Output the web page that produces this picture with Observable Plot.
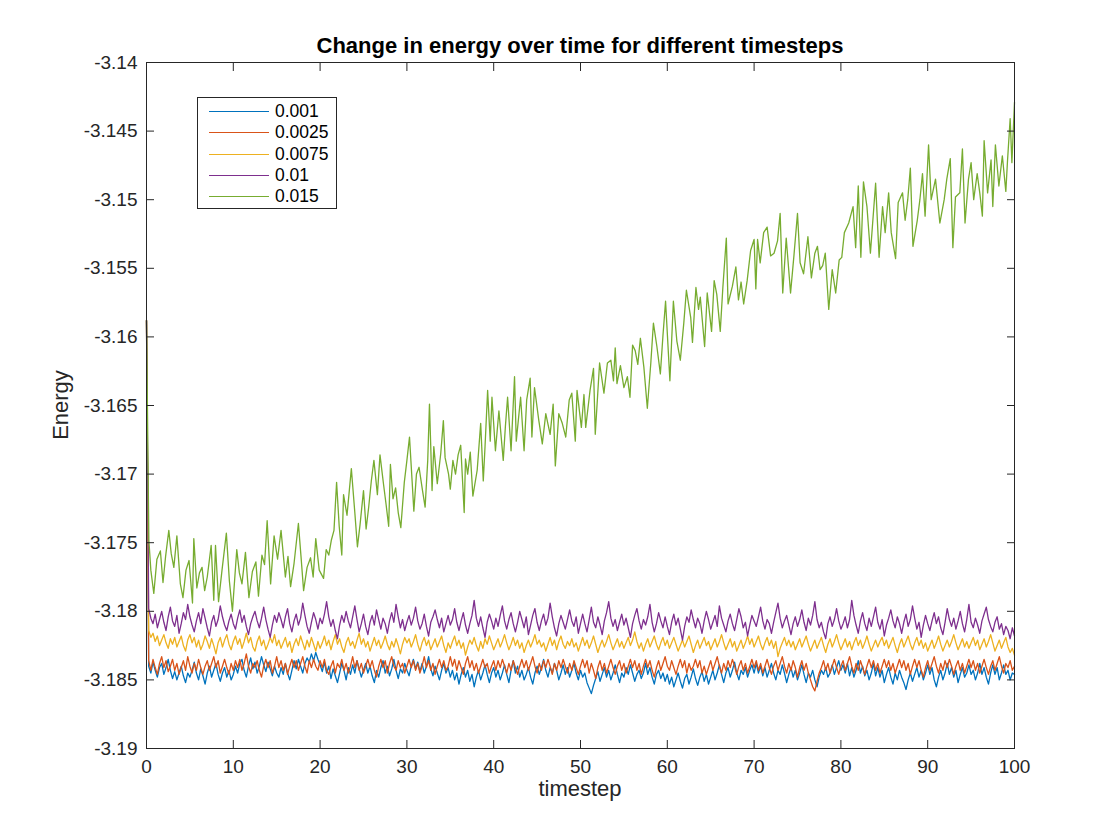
<!DOCTYPE html>
<html>
<head>
<meta charset="utf-8">
<script src="https://cdn.jsdelivr.net/npm/d3@7"></script>
<script src="https://cdn.jsdelivr.net/npm/@observablehq/plot@0.6"></script>
<style>
  html, body { margin: 0; padding: 0; background: #fff; }
  body { font-family: "Liberation Sans", Arial, Helvetica, sans-serif; color: #262626; }
  #wrap { position: relative; width: 1120px; height: 840px; overflow: hidden; background: #fff; }
  #wrap svg { position: absolute; left: 0; top: 0; }
  #title { position: absolute; left: 146px; width: 868px; top: 35px; text-align: center; font-weight: bold; font-size: 22px; line-height: 1; color: #000; white-space: nowrap; }
  #ylabel { position: absolute; left: 61px; top: 405px; transform: translate(-50%, -50%) rotate(-90deg); font-size: 22px; line-height: 1; color: #262626; white-space: nowrap; }
  #xlabel { position: absolute; left: 580px; top: 778px; transform: translateX(-50%); font-size: 22px; line-height: 1; color: #262626; white-space: nowrap; }
  #legend { position: absolute; left: 197px; top: 97px; width: 138px; height: 110px; border: 1px solid #262626; background: #fff; }
  .lrow { position: absolute; left: 0; height: 20px; width: 138px; }
  .lrow .sw { position: absolute; left: 11px; top: 10px; width: 60px; height: 1px; }
  .lrow .lt { position: absolute; left: 77px; top: 0; font-size: 17.5px; line-height: 20px; color: #000; }
</style>
</head>
<body>
<div id="wrap">
  <div id="title"></div>
  <div id="ylabel"></div>
  <div id="xlabel"></div>
  <div id="legend"></div>
</div>
<script>
const titleText = "Change in energy over time for different timesteps";
const xLabelText = "timestep";
const yLabelText = "Energy";

const seriesNames = ["0.001", "0.0025", "0.0075", "0.01", "0.015"];
const seriesColors = ["#0072BD", "#D95319", "#EDB120", "#7E2F8E", "#77AC30"];

const xTicks = [0, 10, 20, 30, 40, 50, 60, 70, 80, 90, 100];
const xTickLabels = ["0", "10", "20", "30", "40", "50", "60", "70", "80", "90", "100"];
const yTicks = [-3.19, -3.185, -3.18, -3.175, -3.17, -3.165, -3.16, -3.155, -3.15, -3.145, -3.14];
const yTickLabels = ["-3.19", "-3.185", "-3.18", "-3.175", "-3.17", "-3.165", "-3.16", "-3.155", "-3.15", "-3.145", "-3.14"];

// All runs start from the same energy at t = 0; the four stable runs are read every 0.25 time units
const startEnergy = -3.1588;
const sampleStep = 0.25;

const energy0001 = [
-3.1840,-3.1845,-3.1837,-3.1843,-3.1848,-3.1841,-3.1838,-3.1846,-3.1841,-3.1835,-3.1843,-3.1849,-3.1844,-3.1850,-3.1845,-3.1840,-3.1847,-3.1852,-3.1845,-3.1848,
-3.1843,-3.1837,-3.1845,-3.1850,-3.1842,-3.1847,-3.1853,-3.1845,-3.1840,-3.1848,-3.1843,-3.1838,-3.1846,-3.1851,-3.1845,-3.1841,-3.1848,-3.1843,-3.1850,-3.1846,
-3.1840,-3.1845,-3.1838,-3.1835,-3.1843,-3.1848,-3.1840,-3.1834,-3.1842,-3.1837,-3.1845,-3.1840,-3.1833,-3.1839,-3.1844,-3.1837,-3.1842,-3.1847,-3.1840,-3.1845,
-3.1848,-3.1841,-3.1846,-3.1838,-3.1845,-3.1850,-3.1843,-3.1836,-3.1842,-3.1835,-3.1840,-3.1845,-3.1838,-3.1834,-3.1837,-3.1831,-3.1836,-3.1830,-3.1835,-3.1839,
-3.1844,-3.1837,-3.1845,-3.1840,-3.1849,-3.1842,-3.1847,-3.1852,-3.1845,-3.1838,-3.1843,-3.1850,-3.1841,-3.1846,-3.1839,-3.1845,-3.1836,-3.1842,-3.1848,-3.1843,
-3.1838,-3.1845,-3.1840,-3.1847,-3.1852,-3.1843,-3.1848,-3.1841,-3.1836,-3.1845,-3.1840,-3.1847,-3.1842,-3.1835,-3.1843,-3.1849,-3.1842,-3.1845,-3.1838,-3.1843,
-3.1847,-3.1840,-3.1835,-3.1842,-3.1837,-3.1844,-3.1838,-3.1845,-3.1840,-3.1833,-3.1842,-3.1847,-3.1840,-3.1845,-3.1850,-3.1843,-3.1838,-3.1845,-3.1841,-3.1848,
-3.1843,-3.1850,-3.1845,-3.1853,-3.1846,-3.1841,-3.1848,-3.1843,-3.1851,-3.1846,-3.1855,-3.1848,-3.1843,-3.1850,-3.1845,-3.1839,-3.1846,-3.1852,-3.1845,-3.1841,
-3.1848,-3.1843,-3.1850,-3.1845,-3.1839,-3.1846,-3.1852,-3.1843,-3.1836,-3.1845,-3.1840,-3.1848,-3.1843,-3.1850,-3.1846,-3.1841,-3.1848,-3.1853,-3.1845,-3.1840,
-3.1846,-3.1841,-3.1835,-3.1843,-3.1848,-3.1841,-3.1845,-3.1838,-3.1843,-3.1850,-3.1845,-3.1839,-3.1846,-3.1841,-3.1848,-3.1843,-3.1838,-3.1845,-3.1850,-3.1843,
-3.1848,-3.1845,-3.1852,-3.1856,-3.1860,-3.1854,-3.1849,-3.1844,-3.1851,-3.1846,-3.1841,-3.1848,-3.1843,-3.1850,-3.1845,-3.1839,-3.1846,-3.1852,-3.1845,-3.1848,
-3.1841,-3.1846,-3.1839,-3.1845,-3.1851,-3.1846,-3.1843,-3.1849,-3.1845,-3.1838,-3.1846,-3.1841,-3.1848,-3.1853,-3.1846,-3.1843,-3.1849,-3.1845,-3.1851,-3.1846,
-3.1853,-3.1848,-3.1855,-3.1850,-3.1845,-3.1851,-3.1856,-3.1849,-3.1846,-3.1853,-3.1848,-3.1842,-3.1849,-3.1854,-3.1848,-3.1844,-3.1851,-3.1846,-3.1853,-3.1848,
-3.1843,-3.1850,-3.1845,-3.1839,-3.1846,-3.1852,-3.1845,-3.1841,-3.1848,-3.1843,-3.1837,-3.1845,-3.1850,-3.1843,-3.1846,-3.1841,-3.1848,-3.1843,-3.1839,-3.1845,
-3.1838,-3.1845,-3.1840,-3.1847,-3.1841,-3.1848,-3.1843,-3.1838,-3.1845,-3.1850,-3.1843,-3.1846,-3.1839,-3.1845,-3.1852,-3.1846,-3.1841,-3.1848,-3.1843,-3.1850,
-3.1845,-3.1839,-3.1846,-3.1852,-3.1845,-3.1848,-3.1843,-3.1850,-3.1855,-3.1848,-3.1843,-3.1846,-3.1841,-3.1848,-3.1845,-3.1839,-3.1846,-3.1841,-3.1836,-3.1843,
-3.1839,-3.1845,-3.1838,-3.1847,-3.1841,-3.1848,-3.1843,-3.1836,-3.1845,-3.1840,-3.1847,-3.1843,-3.1850,-3.1845,-3.1838,-3.1847,-3.1841,-3.1848,-3.1843,-3.1852,
-3.1846,-3.1841,-3.1848,-3.1853,-3.1845,-3.1850,-3.1843,-3.1848,-3.1852,-3.1857,-3.1850,-3.1845,-3.1851,-3.1846,-3.1841,-3.1848,-3.1843,-3.1850,-3.1845,-3.1839,
-3.1846,-3.1841,-3.1850,-3.1855,-3.1848,-3.1843,-3.1850,-3.1845,-3.1838,-3.1846,-3.1841,-3.1848,-3.1843,-3.1852,-3.1846,-3.1841,-3.1848,-3.1845,-3.1839,-3.1846,
-3.1843,-3.1850,-3.1845,-3.1838,-3.1846,-3.1841,-3.1848,-3.1853,-3.1845,-3.1839,-3.1846,-3.1841,-3.1850,-3.1845,-3.1839,-3.1846,-3.1843,-3.1850,-3.1845,-3.1846
];

const energy00025 = [
-3.1836,-3.1843,-3.1835,-3.1841,-3.1846,-3.1838,-3.1833,-3.1841,-3.1836,-3.1844,-3.1840,-3.1835,-3.1843,-3.1838,-3.1846,-3.1841,-3.1836,-3.1843,-3.1833,-3.1840,
-3.1845,-3.1838,-3.1843,-3.1835,-3.1841,-3.1846,-3.1840,-3.1836,-3.1843,-3.1838,-3.1833,-3.1841,-3.1836,-3.1845,-3.1840,-3.1835,-3.1841,-3.1846,-3.1838,-3.1843,
-3.1836,-3.1841,-3.1835,-3.1843,-3.1838,-3.1831,-3.1840,-3.1845,-3.1838,-3.1841,-3.1836,-3.1843,-3.1848,-3.1840,-3.1835,-3.1841,-3.1836,-3.1845,-3.1840,-3.1833,
-3.1841,-3.1836,-3.1843,-3.1838,-3.1846,-3.1840,-3.1835,-3.1841,-3.1836,-3.1843,-3.1838,-3.1833,-3.1840,-3.1845,-3.1836,-3.1841,-3.1835,-3.1840,-3.1843,-3.1836,
-3.1841,-3.1835,-3.1843,-3.1846,-3.1840,-3.1836,-3.1845,-3.1838,-3.1841,-3.1835,-3.1843,-3.1838,-3.1845,-3.1840,-3.1833,-3.1841,-3.1836,-3.1843,-3.1838,-3.1845,
-3.1840,-3.1835,-3.1841,-3.1836,-3.1843,-3.1848,-3.1840,-3.1835,-3.1841,-3.1836,-3.1845,-3.1838,-3.1833,-3.1840,-3.1843,-3.1836,-3.1841,-3.1838,-3.1845,-3.1840,
-3.1835,-3.1841,-3.1836,-3.1843,-3.1838,-3.1845,-3.1840,-3.1833,-3.1841,-3.1836,-3.1843,-3.1838,-3.1846,-3.1840,-3.1835,-3.1841,-3.1836,-3.1843,-3.1840,-3.1833,
-3.1840,-3.1835,-3.1843,-3.1836,-3.1841,-3.1846,-3.1838,-3.1833,-3.1841,-3.1836,-3.1843,-3.1838,-3.1845,-3.1840,-3.1835,-3.1841,-3.1838,-3.1845,-3.1840,-3.1836,
-3.1843,-3.1836,-3.1841,-3.1835,-3.1840,-3.1845,-3.1838,-3.1843,-3.1836,-3.1841,-3.1846,-3.1840,-3.1835,-3.1841,-3.1836,-3.1843,-3.1838,-3.1833,-3.1840,-3.1845,
-3.1838,-3.1843,-3.1836,-3.1841,-3.1835,-3.1840,-3.1846,-3.1838,-3.1843,-3.1836,-3.1841,-3.1835,-3.1840,-3.1845,-3.1838,-3.1843,-3.1836,-3.1841,-3.1846,-3.1840,
-3.1835,-3.1841,-3.1836,-3.1845,-3.1838,-3.1843,-3.1849,-3.1841,-3.1836,-3.1843,-3.1838,-3.1845,-3.1840,-3.1835,-3.1841,-3.1846,-3.1840,-3.1836,-3.1843,-3.1838,
-3.1845,-3.1840,-3.1835,-3.1841,-3.1836,-3.1843,-3.1838,-3.1846,-3.1840,-3.1835,-3.1841,-3.1836,-3.1843,-3.1848,-3.1841,-3.1836,-3.1843,-3.1838,-3.1833,-3.1840,
-3.1843,-3.1836,-3.1841,-3.1846,-3.1840,-3.1835,-3.1841,-3.1836,-3.1845,-3.1838,-3.1843,-3.1840,-3.1835,-3.1841,-3.1836,-3.1845,-3.1840,-3.1846,-3.1841,-3.1836,
-3.1843,-3.1838,-3.1833,-3.1840,-3.1845,-3.1838,-3.1843,-3.1836,-3.1841,-3.1835,-3.1840,-3.1846,-3.1840,-3.1836,-3.1843,-3.1838,-3.1845,-3.1840,-3.1835,-3.1841,
-3.1836,-3.1843,-3.1838,-3.1845,-3.1840,-3.1835,-3.1841,-3.1846,-3.1840,-3.1836,-3.1843,-3.1838,-3.1833,-3.1840,-3.1845,-3.1838,-3.1843,-3.1836,-3.1841,-3.1848,
-3.1841,-3.1836,-3.1843,-3.1838,-3.1845,-3.1850,-3.1855,-3.1858,-3.1851,-3.1845,-3.1841,-3.1836,-3.1843,-3.1838,-3.1845,-3.1840,-3.1835,-3.1841,-3.1846,-3.1840,
-3.1836,-3.1843,-3.1838,-3.1833,-3.1840,-3.1845,-3.1838,-3.1843,-3.1836,-3.1841,-3.1846,-3.1840,-3.1835,-3.1841,-3.1836,-3.1843,-3.1838,-3.1845,-3.1840,-3.1835,
-3.1841,-3.1836,-3.1843,-3.1838,-3.1845,-3.1840,-3.1835,-3.1841,-3.1836,-3.1843,-3.1838,-3.1846,-3.1840,-3.1835,-3.1841,-3.1836,-3.1843,-3.1848,-3.1841,-3.1836,
-3.1843,-3.1838,-3.1833,-3.1840,-3.1845,-3.1838,-3.1843,-3.1836,-3.1841,-3.1835,-3.1840,-3.1846,-3.1840,-3.1836,-3.1843,-3.1838,-3.1845,-3.1840,-3.1835,-3.1841,
-3.1836,-3.1843,-3.1838,-3.1845,-3.1840,-3.1835,-3.1841,-3.1846,-3.1840,-3.1836,-3.1843,-3.1838,-3.1833,-3.1840,-3.1845,-3.1838,-3.1841,-3.1836,-3.1843,-3.1840
];

const energy00075 = [
-3.1814,-3.1819,-3.1816,-3.1822,-3.1818,-3.1825,-3.1821,-3.1817,-3.1823,-3.1827,-3.1820,-3.1824,-3.1819,-3.1826,-3.1822,-3.1818,-3.1825,-3.1829,-3.1821,-3.1817,
-3.1823,-3.1819,-3.1826,-3.1821,-3.1828,-3.1824,-3.1818,-3.1822,-3.1827,-3.1820,-3.1825,-3.1831,-3.1823,-3.1819,-3.1826,-3.1821,-3.1817,-3.1824,-3.1828,-3.1822,
-3.1818,-3.1824,-3.1820,-3.1827,-3.1822,-3.1816,-3.1823,-3.1819,-3.1826,-3.1829,-3.1822,-3.1818,-3.1825,-3.1821,-3.1828,-3.1824,-3.1819,-3.1823,-3.1817,-3.1825,
-3.1821,-3.1827,-3.1823,-3.1819,-3.1826,-3.1822,-3.1830,-3.1824,-3.1820,-3.1825,-3.1818,-3.1823,-3.1828,-3.1821,-3.1826,-3.1819,-3.1824,-3.1829,-3.1822,-3.1827,
-3.1823,-3.1818,-3.1825,-3.1821,-3.1828,-3.1822,-3.1817,-3.1824,-3.1820,-3.1826,-3.1830,-3.1823,-3.1819,-3.1825,-3.1822,-3.1827,-3.1821,-3.1816,-3.1824,-3.1820,
-3.1826,-3.1822,-3.1829,-3.1824,-3.1819,-3.1825,-3.1821,-3.1827,-3.1823,-3.1818,-3.1824,-3.1828,-3.1822,-3.1826,-3.1820,-3.1825,-3.1831,-3.1824,-3.1819,-3.1823,
-3.1820,-3.1826,-3.1822,-3.1817,-3.1824,-3.1829,-3.1823,-3.1819,-3.1825,-3.1821,-3.1828,-3.1824,-3.1820,-3.1826,-3.1822,-3.1818,-3.1825,-3.1830,-3.1823,-3.1827,
-3.1822,-3.1818,-3.1825,-3.1821,-3.1827,-3.1823,-3.1832,-3.1826,-3.1821,-3.1824,-3.1819,-3.1825,-3.1829,-3.1822,-3.1827,-3.1820,-3.1824,-3.1818,-3.1823,-3.1828,
-3.1824,-3.1820,-3.1826,-3.1822,-3.1817,-3.1823,-3.1828,-3.1824,-3.1819,-3.1825,-3.1821,-3.1827,-3.1823,-3.1830,-3.1825,-3.1821,-3.1826,-3.1822,-3.1817,-3.1824,
-3.1821,-3.1826,-3.1823,-3.1829,-3.1824,-3.1819,-3.1825,-3.1821,-3.1828,-3.1822,-3.1818,-3.1824,-3.1827,-3.1822,-3.1825,-3.1820,-3.1826,-3.1823,-3.1829,-3.1824,
-3.1819,-3.1825,-3.1821,-3.1827,-3.1823,-3.1818,-3.1824,-3.1830,-3.1825,-3.1821,-3.1826,-3.1822,-3.1817,-3.1823,-3.1828,-3.1824,-3.1820,-3.1826,-3.1822,-3.1827,
-3.1823,-3.1819,-3.1825,-3.1821,-3.1815,-3.1822,-3.1827,-3.1823,-3.1829,-3.1824,-3.1820,-3.1826,-3.1822,-3.1818,-3.1824,-3.1828,-3.1823,-3.1819,-3.1825,-3.1821,
-3.1827,-3.1823,-3.1819,-3.1824,-3.1829,-3.1825,-3.1821,-3.1826,-3.1822,-3.1818,-3.1824,-3.1830,-3.1825,-3.1821,-3.1827,-3.1823,-3.1819,-3.1825,-3.1822,-3.1828,
-3.1824,-3.1820,-3.1826,-3.1822,-3.1817,-3.1823,-3.1828,-3.1824,-3.1820,-3.1826,-3.1822,-3.1829,-3.1825,-3.1821,-3.1827,-3.1823,-3.1818,-3.1824,-3.1820,-3.1826,
-3.1822,-3.1818,-3.1824,-3.1828,-3.1823,-3.1819,-3.1825,-3.1821,-3.1827,-3.1822,-3.1833,-3.1827,-3.1823,-3.1819,-3.1825,-3.1821,-3.1826,-3.1822,-3.1828,-3.1824,
-3.1820,-3.1826,-3.1822,-3.1818,-3.1824,-3.1829,-3.1825,-3.1821,-3.1827,-3.1823,-3.1819,-3.1825,-3.1830,-3.1824,-3.1820,-3.1826,-3.1822,-3.1817,-3.1823,-3.1828,
-3.1824,-3.1820,-3.1826,-3.1822,-3.1828,-3.1823,-3.1819,-3.1825,-3.1821,-3.1827,-3.1823,-3.1818,-3.1824,-3.1829,-3.1825,-3.1821,-3.1826,-3.1822,-3.1819,-3.1825,
-3.1821,-3.1827,-3.1823,-3.1819,-3.1825,-3.1830,-3.1824,-3.1820,-3.1826,-3.1822,-3.1818,-3.1824,-3.1828,-3.1823,-3.1819,-3.1825,-3.1821,-3.1827,-3.1823,-3.1829,
-3.1825,-3.1821,-3.1827,-3.1823,-3.1818,-3.1824,-3.1829,-3.1825,-3.1821,-3.1826,-3.1822,-3.1817,-3.1823,-3.1828,-3.1824,-3.1820,-3.1826,-3.1822,-3.1827,-3.1823,
-3.1819,-3.1825,-3.1821,-3.1828,-3.1824,-3.1820,-3.1826,-3.1822,-3.1817,-3.1823,-3.1829,-3.1825,-3.1821,-3.1827,-3.1823,-3.1819,-3.1826,-3.1830,-3.1827,-3.1832
];

const energy001 = [
-3.1798,-3.1805,-3.1809,-3.1802,-3.1812,-3.1806,-3.1800,-3.1808,-3.1814,-3.1804,-3.1797,-3.1807,-3.1811,-3.1803,-3.1816,-3.1809,-3.1801,-3.1806,-3.1795,-3.1804,
-3.1810,-3.1815,-3.1807,-3.1801,-3.1809,-3.1798,-3.1805,-3.1812,-3.1818,-3.1808,-3.1803,-3.1811,-3.1806,-3.1796,-3.1804,-3.1810,-3.1814,-3.1807,-3.1802,-3.1809,
-3.1813,-3.1805,-3.1799,-3.1808,-3.1803,-3.1811,-3.1817,-3.1809,-3.1804,-3.1800,-3.1807,-3.1812,-3.1805,-3.1797,-3.1806,-3.1813,-3.1819,-3.1810,-3.1803,-3.1808,
-3.1801,-3.1806,-3.1812,-3.1804,-3.1798,-3.1809,-3.1815,-3.1807,-3.1802,-3.1810,-3.1805,-3.1794,-3.1803,-3.1811,-3.1816,-3.1808,-3.1801,-3.1806,-3.1813,-3.1805,
-3.1809,-3.1802,-3.1793,-3.1804,-3.1811,-3.1806,-3.1814,-3.1820,-3.1810,-3.1803,-3.1808,-3.1800,-3.1807,-3.1812,-3.1804,-3.1796,-3.1806,-3.1815,-3.1809,-3.1802,
-3.1811,-3.1817,-3.1808,-3.1803,-3.1810,-3.1799,-3.1806,-3.1813,-3.1805,-3.1809,-3.1816,-3.1807,-3.1801,-3.1808,-3.1795,-3.1804,-3.1812,-3.1806,-3.1814,-3.1808,
-3.1803,-3.1810,-3.1805,-3.1797,-3.1807,-3.1813,-3.1809,-3.1802,-3.1811,-3.1818,-3.1808,-3.1804,-3.1799,-3.1806,-3.1812,-3.1805,-3.1815,-3.1809,-3.1803,-3.1810,
-3.1806,-3.1798,-3.1808,-3.1814,-3.1807,-3.1801,-3.1810,-3.1816,-3.1809,-3.1803,-3.1792,-3.1805,-3.1811,-3.1804,-3.1812,-3.1819,-3.1808,-3.1802,-3.1807,-3.1813,
-3.1805,-3.1811,-3.1803,-3.1796,-3.1807,-3.1813,-3.1806,-3.1801,-3.1809,-3.1815,-3.1808,-3.1800,-3.1806,-3.1812,-3.1804,-3.1817,-3.1810,-3.1803,-3.1798,-3.1808,
-3.1814,-3.1807,-3.1802,-3.1810,-3.1805,-3.1794,-3.1804,-3.1812,-3.1818,-3.1809,-3.1803,-3.1808,-3.1813,-3.1806,-3.1799,-3.1807,-3.1811,-3.1804,-3.1816,-3.1809,
-3.1802,-3.1809,-3.1815,-3.1806,-3.1797,-3.1808,-3.1812,-3.1804,-3.1810,-3.1817,-3.1807,-3.1801,-3.1793,-3.1805,-3.1811,-3.1806,-3.1814,-3.1808,-3.1802,-3.1810,
-3.1805,-3.1812,-3.1819,-3.1809,-3.1803,-3.1798,-3.1807,-3.1813,-3.1806,-3.1810,-3.1804,-3.1795,-3.1808,-3.1815,-3.1809,-3.1801,-3.1807,-3.1812,-3.1804,-3.1811,
-3.1817,-3.1808,-3.1802,-3.1810,-3.1805,-3.1813,-3.1821,-3.1811,-3.1804,-3.1808,-3.1799,-3.1806,-3.1812,-3.1805,-3.1809,-3.1816,-3.1807,-3.1800,-3.1806,-3.1813,
-3.1808,-3.1803,-3.1811,-3.1796,-3.1805,-3.1810,-3.1815,-3.1807,-3.1802,-3.1809,-3.1814,-3.1806,-3.1798,-3.1804,-3.1812,-3.1808,-3.1818,-3.1810,-3.1803,-3.1807,
-3.1811,-3.1804,-3.1797,-3.1807,-3.1813,-3.1806,-3.1809,-3.1816,-3.1808,-3.1801,-3.1794,-3.1805,-3.1812,-3.1807,-3.1803,-3.1810,-3.1817,-3.1809,-3.1804,-3.1811,
-3.1806,-3.1799,-3.1808,-3.1814,-3.1805,-3.1810,-3.1803,-3.1793,-3.1806,-3.1812,-3.1808,-3.1815,-3.1820,-3.1809,-3.1804,-3.1811,-3.1806,-3.1798,-3.1807,-3.1813,
-3.1809,-3.1804,-3.1812,-3.1806,-3.1792,-3.1803,-3.1810,-3.1816,-3.1807,-3.1801,-3.1809,-3.1814,-3.1805,-3.1811,-3.1804,-3.1797,-3.1808,-3.1813,-3.1806,-3.1818,
-3.1810,-3.1805,-3.1799,-3.1807,-3.1812,-3.1804,-3.1809,-3.1816,-3.1808,-3.1802,-3.1811,-3.1806,-3.1796,-3.1805,-3.1813,-3.1808,-3.1819,-3.1810,-3.1803,-3.1809,
-3.1814,-3.1807,-3.1801,-3.1809,-3.1804,-3.1812,-3.1817,-3.1808,-3.1798,-3.1806,-3.1811,-3.1805,-3.1813,-3.1807,-3.1800,-3.1809,-3.1815,-3.1806,-3.1795,-3.1808,
-3.1812,-3.1805,-3.1810,-3.1816,-3.1807,-3.1802,-3.1797,-3.1806,-3.1811,-3.1815,-3.1808,-3.1804,-3.1813,-3.1809,-3.1817,-3.1811,-3.1814,-3.1820,-3.1812,-3.1818
];

// The drifting run (timestep 0.015), read as (time, energy) pairs
const time0015 = [
0,0.27,0.5,0.84,1.2,1.6,1.9,2.2,2.57,2.85,3.15,3.5,3.9,4.2,4.55,4.9,5.3,5.45,5.8,6.1,
6.4,6.7,7.0,7.45,7.75,7.95,8.3,8.7,9.2,9.55,9.9,10.4,10.7,11.0,11.4,11.8,12.2,12.6,12.9,13.3,
13.6,13.9,14.3,14.7,15.1,15.5,16.0,16.3,16.6,17.0,17.5,17.8,18.1,18.5,18.9,19.2,19.5,19.9,20.4,20.7,
21.0,21.3,21.6,21.9,22.2,22.5,22.7,23.1,23.6,24.0,24.3,24.6,25.0,25.3,25.6,25.9,26.2,26.6,26.9,27.3,
27.6,27.9,28.1,28.4,28.7,29.0,29.3,29.7,30.0,30.3,30.6,30.8,31.1,31.4,31.8,32.1,32.4,32.6,32.9,33.1,
33.5,33.9,34.2,34.4,34.8,35.0,35.3,35.6,35.9,36.2,36.6,36.75,37.0,37.3,37.6,38.1,38.5,38.8,39.0,39.3,
39.6,39.8,40.2,40.6,41.1,41.35,41.6,42.0,42.4,42.6,43.1,43.5,43.8,44.2,44.4,44.7,45.2,45.6,46.0,46.5,
46.85,47.1,47.5,47.9,48.3,48.7,49.0,49.4,49.6,50.1,50.4,50.6,51.1,51.5,51.7,52.2,52.7,53.1,53.5,53.8,
54.0,54.2,54.6,55.0,55.4,55.7,56.0,56.3,56.6,56.9,57.3,57.7,58.1,58.4,58.8,59.2,59.5,59.8,60.3,60.7,
61.1,61.5,61.9,62.2,62.7,62.9,63.3,63.6,63.8,64.3,64.6,65.1,65.4,65.7,66.1,66.4,66.8,67.0,67.5,67.9,
68.2,68.5,68.8,69.2,69.6,70.0,70.2,70.4,70.7,71.1,71.5,71.9,72.3,72.7,73.0,73.3,73.7,74.2,74.6,75.0,
75.3,75.7,76.2,76.6,77.0,77.3,77.6,77.9,78.2,78.6,79.0,79.4,79.8,80.1,80.4,80.9,81.4,81.7,82.0,82.3,
82.6,83.0,83.4,84.0,84.4,84.8,85.1,85.5,85.8,86.3,86.6,87.1,87.4,87.7,88.0,88.3,88.8,89.1,89.4,89.7,
90.1,90.4,90.9,91.4,91.9,92.2,92.6,92.9,93.2,93.7,94.0,94.3,94.7,95.0,95.3,95.7,96.0,96.3,96.5,96.9,
97.3,97.5,97.8,98.2,98.6,99.0,99.2,99.5,99.7,100
];
const energy0015 = [
-3.1588,-3.1748,-3.1770,-3.1787,-3.1762,-3.1756,-3.1779,-3.1760,-3.1741,-3.1758,-3.1768,-3.1745,-3.1780,-3.1790,-3.1770,-3.1763,-3.1794,-3.1747,-3.1783,-3.1772,
-3.1768,-3.1785,-3.1775,-3.1752,-3.1792,-3.1752,-3.1793,-3.1770,-3.1743,-3.1778,-3.1800,-3.1755,-3.1772,-3.1780,-3.1757,-3.1790,-3.1771,-3.1764,-3.1789,-3.1759,
-3.1766,-3.1734,-3.1780,-3.1745,-3.1762,-3.1741,-3.1775,-3.1760,-3.1782,-3.1765,-3.1736,-3.1760,-3.1785,-3.1768,-3.1761,-3.1775,-3.1747,-3.1770,-3.1776,-3.1755,
-3.1759,-3.1748,-3.1741,-3.1706,-3.1738,-3.1759,-3.1715,-3.1730,-3.1696,-3.1728,-3.1753,-3.1737,-3.1712,-3.1740,-3.1724,-3.1705,-3.1690,-3.1715,-3.1686,-3.1707,
-3.1722,-3.1738,-3.1693,-3.1718,-3.1710,-3.1728,-3.1739,-3.1706,-3.1690,-3.1673,-3.1705,-3.1727,-3.1700,-3.1695,-3.1712,-3.1724,-3.1690,-3.1649,-3.1712,-3.1680,
-3.1707,-3.1685,-3.1661,-3.1688,-3.1700,-3.1711,-3.1690,-3.1700,-3.1686,-3.1679,-3.1728,-3.1689,-3.1700,-3.1684,-3.1716,-3.1697,-3.1663,-3.1705,-3.1680,-3.1639,
-3.1676,-3.1644,-3.1683,-3.1654,-3.1690,-3.1665,-3.1644,-3.1683,-3.1629,-3.1676,-3.1644,-3.1683,-3.1646,-3.1630,-3.1673,-3.1637,-3.1661,-3.1678,-3.1656,-3.1671,
-3.1649,-3.1694,-3.1656,-3.1663,-3.1673,-3.1646,-3.1641,-3.1676,-3.1639,-3.1666,-3.1642,-3.1666,-3.1639,-3.1623,-3.1671,-3.1619,-3.1641,-3.1619,-3.1617,-3.1632,
-3.1608,-3.1634,-3.1621,-3.1637,-3.1629,-3.1644,-3.1606,-3.1610,-3.1620,-3.1601,-3.1622,-3.1652,-3.1619,-3.1590,-3.1607,-3.1627,-3.1599,-3.1574,-3.1632,-3.1574,
-3.1603,-3.1617,-3.1590,-3.1566,-3.1586,-3.1604,-3.1564,-3.1580,-3.1571,-3.1607,-3.1568,-3.1596,-3.1559,-3.1569,-3.1596,-3.1564,-3.1528,-3.1576,-3.1563,-3.1549,
-3.1573,-3.1560,-3.1576,-3.1559,-3.1537,-3.1529,-3.1565,-3.1529,-3.1546,-3.1524,-3.1520,-3.1541,-3.1539,-3.1530,-3.1510,-3.1568,-3.1528,-3.1568,-3.1540,-3.1510,
-3.1546,-3.1554,-3.1527,-3.1557,-3.1539,-3.1534,-3.1551,-3.1548,-3.1539,-3.1580,-3.1551,-3.1568,-3.1544,-3.1542,-3.1524,-3.1517,-3.1505,-3.1535,-3.1490,-3.1542,
-3.1487,-3.1505,-3.1539,-3.1488,-3.1542,-3.1505,-3.1524,-3.1495,-3.1524,-3.1543,-3.1502,-3.1495,-3.1515,-3.1500,-3.1477,-3.1534,-3.1515,-3.1500,-3.1481,-3.1512,
-3.1460,-3.1500,-3.1485,-3.1517,-3.1500,-3.1485,-3.1470,-3.1535,-3.1498,-3.1495,-3.1463,-3.1517,-3.1485,-3.1473,-3.1500,-3.1481,-3.1495,-3.1512,-3.1457,-3.1495,
-3.1471,-3.1505,-3.1460,-3.1490,-3.1468,-3.1494,-3.1471,-3.1441,-3.1473,-3.1429
];

// ---- build tables for the library ----
function sampledRows(values) {
  return [{t: 0, e: startEnergy}].concat(values.map((e, i) => ({t: (i + 1) * sampleStep, e})));
}
const seriesRows = [
  sampledRows(energy0001),
  sampledRows(energy00025),
  sampledRows(energy00075),
  sampledRows(energy001),
  time0015.map((t, i) => ({t, e: energy0015[i]}))
];

const axisColor = "#262626";
const chart = Plot.plot({
  width: 1120,
  height: 840,
  marginLeft: 146,
  marginRight: 106,
  marginTop: 62,
  marginBottom: 92,
  style: {fontFamily: "'Liberation Sans', Arial, Helvetica, sans-serif", fontSize: "19px", color: axisColor, background: "transparent", overflow: "visible"},
  x: {domain: [0, 100], label: null},
  y: {domain: [-3.19, -3.14], label: null},
  marks: [
    ...seriesRows.map((rows, k) => Plot.line(rows, {x: "t", y: "e", stroke: seriesColors[k], strokeWidth: 1.3})),
    Plot.frame({stroke: axisColor, strokeWidth: 1}),
    Plot.axisY(yTicks, {anchor: "left", label: null, tickSize: -8, tickPadding: 17, stroke: axisColor, fill: axisColor, fontSize: 19,
      tickFormat: (d) => yTickLabels[yTicks.indexOf(d)]}),
    Plot.axisY(yTicks, {anchor: "right", label: null, tickSize: -8, stroke: axisColor, tickFormat: () => ""}),
    Plot.axisX(xTicks, {anchor: "bottom", label: null, tickSize: -8, tickPadding: 19, stroke: axisColor, fill: axisColor, fontSize: 19,
      tickFormat: (d) => xTickLabels[xTicks.indexOf(d)]}),
    Plot.axisX(xTicks, {anchor: "top", label: null, tickSize: -8, stroke: axisColor, tickFormat: () => ""})
  ]
});

const wrap = document.getElementById("wrap");
wrap.insertBefore(chart, wrap.firstChild);

document.getElementById("title").textContent = titleText;
document.getElementById("xlabel").textContent = xLabelText;
document.getElementById("ylabel").textContent = yLabelText;

const legend = document.getElementById("legend");
seriesNames.forEach((name, k) => {
  const row = document.createElement("div");
  row.className = "lrow";
  row.style.top = (3 + k * 21.3) + "px";
  const sw = document.createElement("div");
  sw.className = "sw";
  sw.style.background = seriesColors[k];
  const lt = document.createElement("div");
  lt.className = "lt";
  lt.textContent = name;
  row.appendChild(sw);
  row.appendChild(lt);
  legend.appendChild(row);
});
</script>
</body>
</html>
